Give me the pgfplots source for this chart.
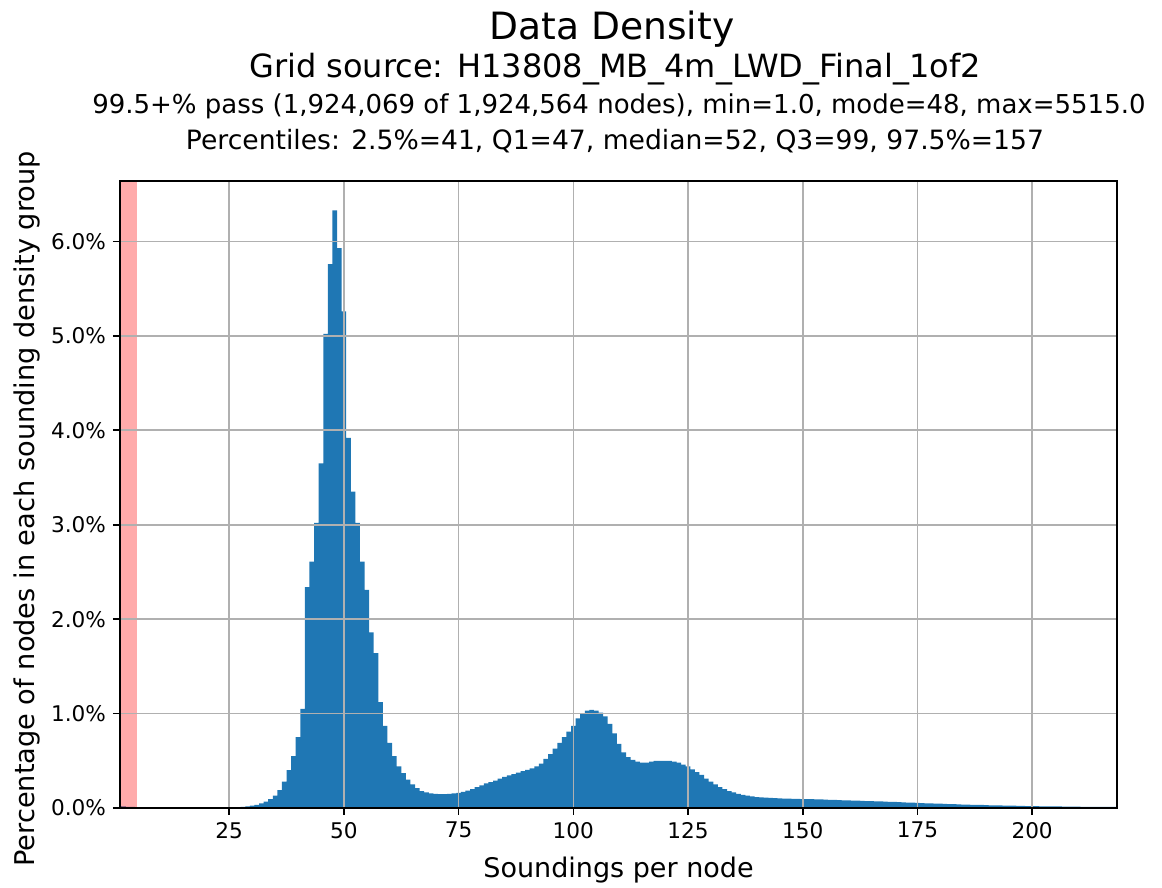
\documentclass[border=0pt]{standalone}
\usepackage{fontspec}
\setmainfont{DejaVu Sans}
\usepackage{pgfplots}
\usepackage{pgfplotstable}
\pgfplotsset{compat=1.18}
\definecolor{mplblue}{RGB}{31,119,180}
\definecolor{gridgray}{RGB}{176,176,176}

% percentage of nodes for each soundings-per-node value
\pgfplotstableread{
n pct
1 0.020
2 0.016
3 0.013
4 0.011
5 0.010
6 0.009
7 0.008
8 0.007
9 0.006
10 0.005
11 0.004
12 0.004
13 0.003
14 0.003
15 0.003
16 0.003
17 0.003
18 0.003
19 0.003
20 0.003
21 0.003
22 0.004
23 0.004
24 0.005
25 0.006
26 0.007
27 0.009
28 0.012
29 0.017
30 0.024
31 0.034
32 0.048
33 0.068
34 0.095
35 0.13
36 0.19
37 0.28
38 0.40
39 0.55
40 0.75
41 1.05
42 2.34
43 2.61
44 3.02
45 3.65
46 5.02
47 5.76
48 6.33
49 5.93
50 5.26
51 3.92
52 3.35
53 3.02
54 2.61
55 2.31
56 1.86
57 1.64
58 1.12
59 0.87
60 0.69
61 0.55
62 0.44
63 0.37
64 0.30
65 0.25
66 0.21
67 0.18
68 0.165
69 0.155
70 0.150
71 0.148
72 0.147
73 0.150
74 0.155
75 0.160
76 0.170
77 0.185
78 0.200
79 0.220
80 0.240
81 0.260
82 0.275
83 0.290
84 0.310
85 0.330
86 0.345
87 0.360
88 0.375
89 0.390
90 0.405
91 0.420
92 0.440
93 0.470
94 0.520
95 0.570
96 0.630
97 0.690
98 0.750
99 0.810
100 0.870
101 0.950
102 1.000
103 1.030
104 1.040
105 1.030
106 1.010
107 0.970
108 0.890
109 0.790
110 0.680
111 0.590
112 0.540
113 0.510
114 0.490
115 0.480
116 0.480
117 0.490
118 0.500
119 0.500
120 0.500
121 0.500
122 0.490
123 0.480
124 0.460
125 0.440
126 0.410
127 0.380
128 0.350
129 0.310
130 0.280
131 0.250
132 0.220
133 0.200
134 0.180
135 0.165
136 0.150
137 0.140
138 0.130
139 0.122
140 0.116
141 0.112
142 0.109
143 0.106
144 0.104
145 0.102
146 0.100
147 0.099
148 0.097
149 0.096
150 0.095
151 0.094
152 0.093
153 0.091
154 0.090
155 0.089
156 0.087
157 0.086
158 0.084
159 0.082
160 0.080
161 0.078
162 0.077
163 0.075
164 0.074
165 0.072
166 0.070
167 0.069
168 0.067
169 0.066
170 0.064
171 0.062
172 0.060
173 0.058
174 0.056
175 0.054
176 0.052
177 0.050
178 0.048
179 0.047
180 0.045
181 0.043
182 0.042
183 0.040
184 0.039
185 0.037
186 0.036
187 0.034
188 0.033
189 0.032
190 0.030
191 0.029
192 0.028
193 0.027
194 0.026
195 0.025
196 0.024
197 0.023
198 0.022
199 0.021
200 0.020
201 0.019
202 0.018
203 0.018
204 0.017
205 0.016
206 0.016
207 0.015
208 0.015
209 0.014
210 0.014
211 0.013
212 0.013
213 0.012
214 0.012
215 0.012
216 0.011
217 0.011
218 0.011
219 0.010
}\densitytable

\begin{document}
\begin{tikzpicture}
\useasboundingbox (-60pt,-40pt) rectangle (521pt,404pt);
\begin{axis}[
  at={(0,0)}, anchor=south west,
  scale only axis, width=498.5pt, height=313.5pt,
  xmin=1.2, xmax=218.5, ymin=0, ymax=6.64,
  xtick={25,50,...,200}, ytick={0,1,...,6},
  yticklabel={\pgfmathprintnumber[fixed,fixed zerofill,precision=1]{\tick}\%},
  /pgf/number format/assume math mode=true,
  tick label style={font=\fontsize{10.8}{13}\selectfont},
  tick pos=left, tick align=outside, major tick length=3.5pt,
  tick style={black, line width=0.8pt},
  axis line style={black, line width=0.9pt},
  grid=major, major grid style={gridgray, line width=0.8pt},
  axis on top,
  xlabel={Soundings per node},
  ylabel={Percentage of nodes in each sounding density group},
  every axis x label/.style={at={(axis description cs:0.5,-0.099)}, anchor=center,
    font=\fontsize{13.5}{16}\selectfont},
  every axis y label/.style={at={(axis description cs:-0.093,0.477)}, anchor=center, rotate=90,
    font=\fontsize{13.6}{16}\selectfont},
]
\addplot[draw=none, fill=mplblue, const plot mark mid] table[x=n, y=pct] {\densitytable} \closedcycle;
\addplot[draw=none, fill=red, fill opacity=0.33] coordinates {(0,6.64) (5,6.64)} \closedcycle;
\end{axis}
\node[anchor=base, font=\fontsize{18.8}{22}\selectfont] at (246pt,384pt) {Data Density};
\node[anchor=base, font=\fontsize{16}{19}\selectfont] at (247.5pt,365pt) {Grid source: H13808\_MB\_4m\_LWD\_Final\_1of2};
\node[anchor=base, font=\fontsize{13}{15}\selectfont] at (249.5pt,347pt) {99.5+\% pass (1,924,069 of 1,924,564 nodes), min=1.0, mode=48, max=5515.0};
\node[anchor=base, font=\fontsize{13.3}{15}\selectfont] at (247.5pt,329pt) {Percentiles: 2.5\%=41, Q1=47, median=52, Q3=99, 97.5\%=157};
\end{tikzpicture}
\end{document}
